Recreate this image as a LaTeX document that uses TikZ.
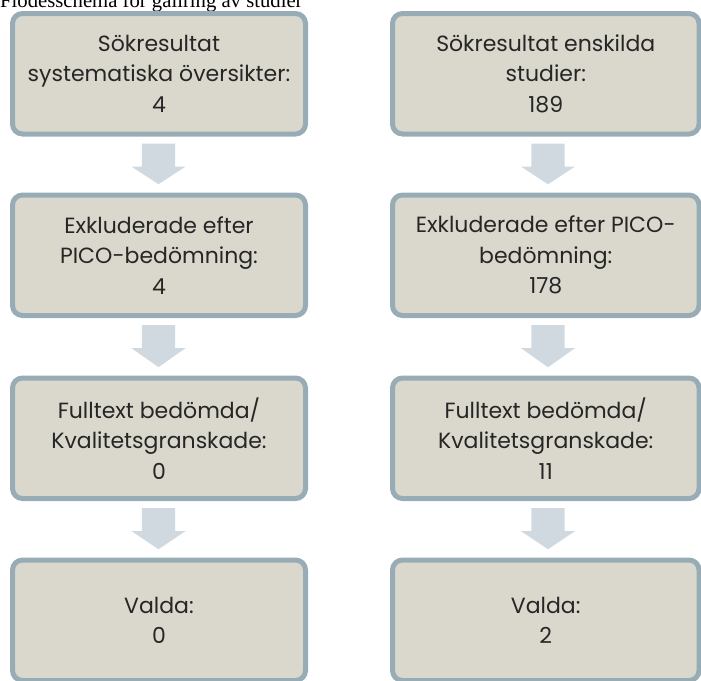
\documentclass[tikz,border=0pt]{standalone}
\usepackage{fontspec}
\setmainfont{Poppins}
\newfontfamily\titlefont{Liberation Serif}
\usetikzlibrary{calc}
\definecolor{boxfill}{HTML}{DAD8CC}
\definecolor{boxline}{HTML}{98ACB6}
\definecolor{arrowfill}{HTML}{D0D9DF}
\definecolor{boxtext}{HTML}{262626}
\tikzset{
  stage/.style={rectangle, draw=boxline, fill=boxfill, line width=5pt,
    rounded corners=10pt, align=center, text=boxtext,
    font=\fontsize{22}{30.5}\selectfont, inner sep=0pt, anchor=center},
  leftstage/.style={stage, minimum width=293pt, minimum height=120.5pt},
  rightstage/.style={stage, minimum width=306.5pt, minimum height=120.5pt},
}
% block arrow from the bottom of one stage to the top of the next
\newcommand{\blockarrow}[3]{%
  \fill[arrowfill]
    ($(#1.south)+(#3-16.6,7)$) -- ($(#1.south)+(#3+16.6,7)$) --
    ($(#1.south)+(#3+16.6,30)$) -- ($(#1.south)+(#3+27.2,30)$) --
    ($(#2.north)+(#3,-8.3)$) --
    ($(#1.south)+(#3-27.2,30)$) -- ($(#1.south)+(#3-16.6,30)$) -- cycle;}
\begin{document}
\begin{tikzpicture}[x=1pt, y=-1pt]
\useasboundingbox (0,0) rectangle (701,680);
\node[anchor=base west, inner sep=0pt, font=\titlefont\fontsize{20.7}{24}\selectfont] (title) at (0,7) {Flödesschema för gallring av studier};

% left column: systematic reviews
\node[leftstage] (l1) at (159,73.75) {Sökresultat\\systematiska översikter:\\4};
\node[leftstage] (l2) at (159,255.25) {Exkluderade efter\\PICO-bedömning:\\4};
\node[leftstage] (l3) at (159,438.25) {Fulltext bedömda/\\Kvalitetsgranskade:\\0};
\node[leftstage] (l4) at (159,620.25) {Valda:\\0};

% right column: individual studies
\node[rightstage] (r1) at (545.75,73.75) {Sökresultat enskilda\\studier:\\189};
\node[rightstage] (r2) at (545.75,255.25) {Exkluderade efter PICO-\\bedömning:\\178};
\node[rightstage] (r3) at (545.75,438.25) {Fulltext bedömda/\\Kvalitetsgranskade:\\11};
\node[rightstage] (r4) at (545.75,620.25) {Valda:\\2};

\blockarrow{l1}{l2}{-0.5}
\blockarrow{l2}{l3}{-0.5}
\blockarrow{l3}{l4}{-0.5}
\blockarrow{r1}{r2}{2.25}
\blockarrow{r2}{r3}{2.25}
\blockarrow{r3}{r4}{2.25}
\end{tikzpicture}
\end{document}
